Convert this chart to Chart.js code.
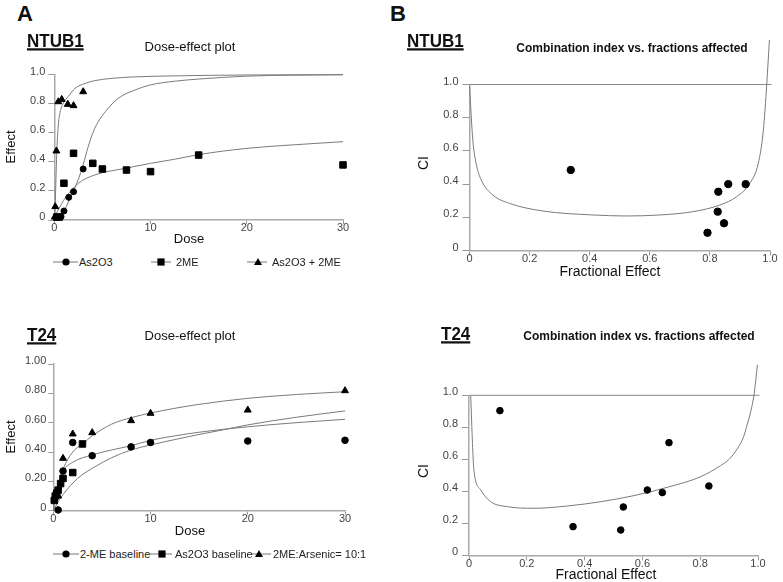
<!DOCTYPE html>
<html>
<head>
<meta charset="utf-8">
<script src="https://cdn.jsdelivr.net/npm/chart.js@4.4.1/dist/chart.umd.min.js"></script>
<style>
  body { margin: 0; background: #fff; font-family: "Liberation Sans", Arial, sans-serif; }
  #fig { position: relative; width: 783px; height: 582px; overflow: hidden; }
  #fig canvas { position: absolute; }
  .t { position: absolute; white-space: nowrap; line-height: 1; color: #111; z-index: 2; }
  .c { transform: translate(-50%, -50%); }
  .l { transform: translateY(-50%); }
  .v { transform: translate(-50%, -50%) rotate(-90deg); }
  .big { font-size: 22px; font-weight: bold; }
  .cell { font-size: 17px; font-weight: bold; text-decoration: underline; text-decoration-thickness: 1.5px; transform: translateY(-50%) scaleY(1.12); }
  .plot { font-size: 13px; }
  .ci { font-size: 12px; font-weight: bold; }
  .axt { font-size: 13px; }
  .fe { font-size: 14px; }
  .leg { font-size: 11px; color: #222; }
  svg { position: absolute; z-index: 2; }
</style>
</head>
<body>
<div id="fig">
  <canvas id="ntubDose"></canvas>
  <canvas id="t24Dose"></canvas>
  <canvas id="ntubCI"></canvas>
  <canvas id="t24CI"></canvas>

  <div class="t l big" style="left:17px; top:14px;">A</div>
  <div class="t l big" style="left:390px; top:14px;">B</div>

  <div class="t cell" style="left:27px; top:41px;">NTUB1</div>
  <div class="t cell" style="left:407px; top:41px;">NTUB1</div>
  <div class="t cell" style="left:27px; top:335px;">T24</div>
  <div class="t cell" style="left:441px; top:334px;">T24</div>

  <div class="t c plot" style="left:190px; top:46px;">Dose-effect plot</div>
  <div class="t c plot" style="left:190px; top:335px;">Dose-effect plot</div>
  <div class="t c ci" style="left:632px; top:48px;">Combination index vs. fractions affected</div>
  <div class="t c ci" style="left:639px; top:336px;">Combination index vs. fractions affected</div>

  <div class="t v axt" style="left:10px; top:147px;">Effect</div>
  <div class="t v axt" style="left:10px; top:437px;">Effect</div>
  <div class="t c axt" style="left:189px; top:238px;">Dose</div>
  <div class="t c axt" style="left:190px; top:530px;">Dose</div>
  <div class="t v fe" style="left:423px; top:163px;">CI</div>
  <div class="t v fe" style="left:423px; top:471px;">CI</div>
  <div class="t c fe" style="left:610px; top:271px;">Fractional Effect</div>
  <div class="t c fe" style="left:606px; top:574px;">Fractional Effect</div>
</div>

<script>
// ---- NTUB1 dose-effect (panel A, top) ----
const ntubAsDose = [0.35, 0.7, 1, 1.5, 2, 3];
const ntubAsEffect = [0.02, 0.023, 0.062, 0.156, 0.195, 0.351];
const ntubMeDose = [0.25, 0.5, 1, 2, 4, 5, 7.5, 10, 15, 30];
const ntubMeEffect = [0.02, 0.02, 0.253, 0.459, 0.39, 0.351, 0.344, 0.333, 0.447, 0.379];
const ntubComboDose = [0.05, 0.1, 0.22, 0.42, 0.77, 1.4, 2, 3];
const ntubComboEffect = [0.02, 0.092, 0.475, 0.814, 0.83, 0.796, 0.787, 0.883];

// fitted curves
const ntubComboFitDose = [0, 0.05, 0.1, 0.25, 0.4, 0.6, 0.9, 1.45, 2.15, 3.2, 4.2, 6, 8, 12.5, 20, 30];
const ntubComboFitEffect = [0, 0.03, 0.12, 0.45, 0.64, 0.74, 0.8, 0.85, 0.906, 0.94, 0.959, 0.975, 0.984, 0.992, 0.998, 1.0];
const ntubAsFitDose = [0, 0.5, 1, 1.5, 2, 2.5, 3, 3.5, 4.2, 5.3, 6.7, 8.4, 10, 12.5, 15, 20, 30];
const ntubAsFitEffect = [0, 0.01, 0.06, 0.13, 0.2, 0.28, 0.38, 0.5, 0.63, 0.745, 0.84, 0.895, 0.93, 0.955, 0.97, 0.99, 1.0];
const ntubMeFitDose = [0, 0.25, 0.5, 1.1, 2.5, 4.2, 7.4, 10, 12.5, 15, 20, 25, 30];
const ntubMeFitEffect = [0, 0.05, 0.08, 0.149, 0.252, 0.31, 0.356, 0.39, 0.418, 0.45, 0.493, 0.518, 0.539];

// ---- T24 dose-effect (panel A, bottom) ----
const t24MeDose = [0.5, 1, 2, 4, 8, 10, 20, 30];
const t24MeEffect = [0.005, 0.27, 0.465, 0.375, 0.435, 0.465, 0.475, 0.48];
const t24AsDose = [0.1, 0.2, 0.35, 0.5, 0.75, 1, 2, 3];
const t24AsEffect = [0.07, 0.1, 0.12, 0.14, 0.185, 0.22, 0.26, 0.455];
const t24ComboDose = [0.5, 1, 2, 4, 8, 10, 20, 30];
const t24ComboEffect = [0.1, 0.357, 0.523, 0.532, 0.614, 0.664, 0.686, 0.818];

const t24TopFitDose = [0, 0.25, 0.5, 1, 2, 3, 4, 6, 8, 10, 12.5, 15, 20, 25, 30];
const t24TopFitEffect = [0, 0.1, 0.16, 0.28, 0.4, 0.455, 0.51, 0.59, 0.634, 0.666, 0.698, 0.725, 0.766, 0.792, 0.811];
const t24MidFitDose = [0, 0.25, 0.5, 1, 2, 4, 6, 8, 10, 12.5, 15, 20, 25, 30];
const t24MidFitEffect = [0, 0.12, 0.18, 0.27, 0.33, 0.38, 0.414, 0.443, 0.48, 0.51, 0.535, 0.572, 0.6, 0.623];
const t24LowFitDose = [0, 0.5, 1, 2.5, 4.3, 6, 8, 10, 12.5, 15, 17, 20, 25, 30];
const t24LowFitEffect = [0, 0.06, 0.11, 0.22, 0.3, 0.361, 0.414, 0.448, 0.485, 0.52, 0.545, 0.585, 0.637, 0.68];

// ---- combination index vs fraction affected (panel B) ----
const ntubFa = [0.337, 0.792, 0.826, 0.828, 0.847, 0.861, 0.919];
const ntubCI = [0.485, 0.107, 0.234, 0.354, 0.164, 0.4, 0.4];
const ntubCIFitFa = [0, 0.011, 0.022, 0.039, 0.078, 0.133, 0.244, 0.411, 0.522, 0.633, 0.744, 0.833, 0.889, 0.933, 0.961, 0.978, 0.989, 0.998];
const ntubCIFit = [0.99, 0.666, 0.525, 0.425, 0.334, 0.284, 0.238, 0.214, 0.208, 0.214, 0.234, 0.274, 0.324, 0.405, 0.525, 0.726, 0.997, 1.268];

const t24Fa = [0.107, 0.36, 0.525, 0.534, 0.617, 0.669, 0.692, 0.83];
const t24CI = [0.904, 0.179, 0.158, 0.302, 0.408, 0.392, 0.704, 0.433];
const t24CIFitFa = [0.006, 0.012, 0.017, 0.04, 0.075, 0.133, 0.225, 0.34, 0.456, 0.571, 0.686, 0.8, 0.87, 0.9, 0.928, 0.95, 0.963, 0.975, 0.986, 0.998];
const t24CIFit = [0.996, 0.7, 0.533, 0.41, 0.335, 0.304, 0.294, 0.308, 0.335, 0.373, 0.425, 0.49, 0.56, 0.6, 0.665, 0.74, 0.82, 0.9, 1.0, 1.19];

// additivity line CI = 1
const refFa = [0, 1.005];
const refCI = [1, 1];

// ---- ticks ----
const doseTicks = [0, 10, 20, 30];
const doseTickLabels = ["0", "10", "20", "30"];
const unitTicks = [0, 0.2, 0.4, 0.6, 0.8, 1.0];
const unitTickLabels = ["0", "0.2", "0.4", "0.6", "0.8", "1.0"];
const t24EffectTickLabels = ["0", "0.20", "0.40", "0.60", "0.80", "1.00"];

// legend names
const ntubNames = ["As2O3", "2ME", "As2O3 + 2ME"];
const t24Names = ["2-ME baseline", "As2O3 baseline", "2ME:Arsenic= 10:1"];

Chart.defaults.font.family = '"Liberation Sans", Arial, sans-serif';

const pts = (xs, ys) => xs.map((x, i) => ({ x: x, y: ys[i] }));

function markers(label, xs, ys, style, r) {
  return {
    label: label,
    data: pts(xs, ys),
    showLine: false,
    pointStyle: style,
    pointRadius: r,
    backgroundColor: "#000",
    borderColor: "#000",
    borderWidth: 1,
    clip: false,
  };
}

function curve(label, xs, ys, color) {
  return {
    label: label,
    data: pts(xs, ys),
    showLine: true,
    pointRadius: 0,
    borderColor: color || "#7a7a7a",
    borderWidth: 1,
    cubicInterpolationMode: "monotone",
    clip: false,
  };
}

function axis(ax, size, isY) {
  return {
    type: "linear",
    min: ax.values[0],
    max: ax.values[ax.values.length - 1],
    afterBuildTicks: (s) => {
      s.ticks = ax.values.map((v) => ({ value: v }));
    },
    afterFit: (s) => {
      if (isY) s.width = size;
      else s.height = size;
    },
    ticks: {
      callback: (v, i) => ax.labels[i],
      font: { size: 11 },
      color: "#444",
      padding: ax.pad,
      labelOffset: ax.off || 0,
      maxRotation: 0,
      autoSkip: false,
    },
    grid: {
      drawOnChartArea: false,
      drawTicks: true,
      tickLength: ax.tick,
      color: "#999",
    },
    border: { display: true, color: "#aaa", width: 1.5 },
  };
}

function makeChart(id, box, xAx, yAx, datasets) {
  const c = document.getElementById(id);
  c.width = box.w;
  c.height = box.h;
  c.style.left = box.x + "px";
  c.style.top = box.y + "px";
  return new Chart(c.getContext("2d"), {
    type: "scatter",
    data: { datasets: datasets },
    options: {
      responsive: false,
      animation: false,
      layout: { padding: { top: box.pt, right: box.pr, left: 0, bottom: 0 } },
      plugins: { legend: { display: false }, tooltip: { enabled: false } },
      scales: {
        x: axis(xAx, box.xh, false),
        y: axis(yAx, box.yw, true),
      },
    },
  });
}

// NTUB1 dose-effect plot
makeChart(
  "ntubDose",
  { x: 0, y: 40, w: 360, h: 200, pt: 34.7, pr: 17, yw: 54.3, xh: 20 },
  { values: doseTicks, labels: doseTickLabels, tick: 4, pad: -3 },
  { values: unitTicks, labels: unitTickLabels, tick: 6, pad: 3, off: -3 },
  [
    markers("As2O3", ntubAsDose, ntubAsEffect, "circle", 3),
    markers("2ME", ntubMeDose, ntubMeEffect, "rect", 4.6),
    markers("As2O3 + 2ME", ntubComboDose, ntubComboEffect, "triangle", 4),
    curve("As2O3 + 2ME fit", ntubComboFitDose, ntubComboFitEffect),
    curve("As2O3 fit", ntubAsFitDose, ntubAsFitEffect),
    curve("2ME fit", ntubMeFitDose, ntubMeFitEffect),
  ]
);

// T24 dose-effect plot
makeChart(
  "t24Dose",
  { x: 0, y: 330, w: 360, h: 200, pt: 34, pr: 15, yw: 53.3, xh: 19.3 },
  { values: doseTicks, labels: doseTickLabels, tick: 4, pad: -2 },
  { values: unitTicks, labels: t24EffectTickLabels, tick: 5, pad: 2, off: -3 },
  [
    markers("2-ME baseline", t24MeDose, t24MeEffect, "circle", 3.3),
    markers("As2O3 baseline", t24AsDose, t24AsEffect, "rect", 4.6),
    markers("2ME:Arsenic= 10:1", t24ComboDose, t24ComboEffect, "triangle", 4),
    curve("top fit", t24TopFitDose, t24TopFitEffect),
    curve("middle fit", t24MidFitDose, t24MidFitEffect),
    curve("low fit", t24LowFitDose, t24LowFitEffect),
  ]
);

// NTUB1 CI vs fa
makeChart(
  "ntubCI",
  { x: 430, y: 30, w: 353, h: 241, pt: 54.5, pr: 13, yw: 39.5, xh: 20.5 },
  { values: unitTicks, labels: unitTickLabels, tick: 5, pad: -3 },
  { values: unitTicks, labels: unitTickLabels, tick: 7, pad: 4, off: -3 },
  [
    markers("CI", ntubFa, ntubCI, "circle", 3.7),
    curve("CI fit", ntubCIFitFa, ntubCIFit),
    curve("CI = 1", refFa, refCI, "#888"),
  ]
);

// T24 CI vs fa
makeChart(
  "t24CI",
  { x: 430, y: 330, w: 353, h: 246, pt: 65.3, pr: 25, yw: 39, xh: 20.7 },
  { values: unitTicks, labels: unitTickLabels, tick: 5, pad: -3 },
  { values: unitTicks, labels: unitTickLabels, tick: 7, pad: 4, off: -3 },
  [
    markers("CI", t24Fa, t24CI, "circle", 3.3),
    curve("CI fit", t24CIFitFa, t24CIFit),
    curve("CI = 1", refFa, refCI, "#888"),
  ]
);

// Legends (line + marker swatch, then name)
const shapes = {
  circle: (x) => `<circle cx="${x}" cy="5" r="3.6" fill="#000"/>`,
  rect: (x) => `<rect x="${x - 3.6}" y="1.4" width="7.2" height="7.2" fill="#000"/>`,
  triangle: (x) => `<polygon points="${x},1 ${x + 4},8 ${x - 4},8" fill="#000"/>`,
};

function legend(names, styles, y, slots) {
  const fig = document.getElementById("fig");
  names.forEach((name, i) => {
    const s = slots[i]; // [lineStart, lineEnd, markerX, textX]
    const w = s[1] - s[0];
    const svg = document.createElementNS("http://www.w3.org/2000/svg", "svg");
    svg.setAttribute("width", w);
    svg.setAttribute("height", 10);
    svg.style.left = s[0] + "px";
    svg.style.top = y - 5 + "px";
    svg.innerHTML =
      `<line x1="0" y1="5" x2="${w}" y2="5" stroke="#777" stroke-width="1"/>` +
      shapes[styles[i]](s[2] - s[0]);
    fig.appendChild(svg);

    const txt = document.createElement("div");
    txt.className = "t l leg";
    txt.style.left = s[3] + "px";
    txt.style.top = y + "px";
    txt.textContent = name;
    fig.appendChild(txt);
  });
}

legend(ntubNames, ["circle", "rect", "triangle"], 262, [
  [53, 78, 66, 79],
  [151, 171, 161, 176],
  [247, 267, 258, 272],
]);
legend(t24Names, ["circle", "rect", "triangle"], 554, [
  [53, 79, 66, 80],
  [149, 172, 162, 175],
  [252, 271, 259, 273],
]);
</script>
</body>
</html>
